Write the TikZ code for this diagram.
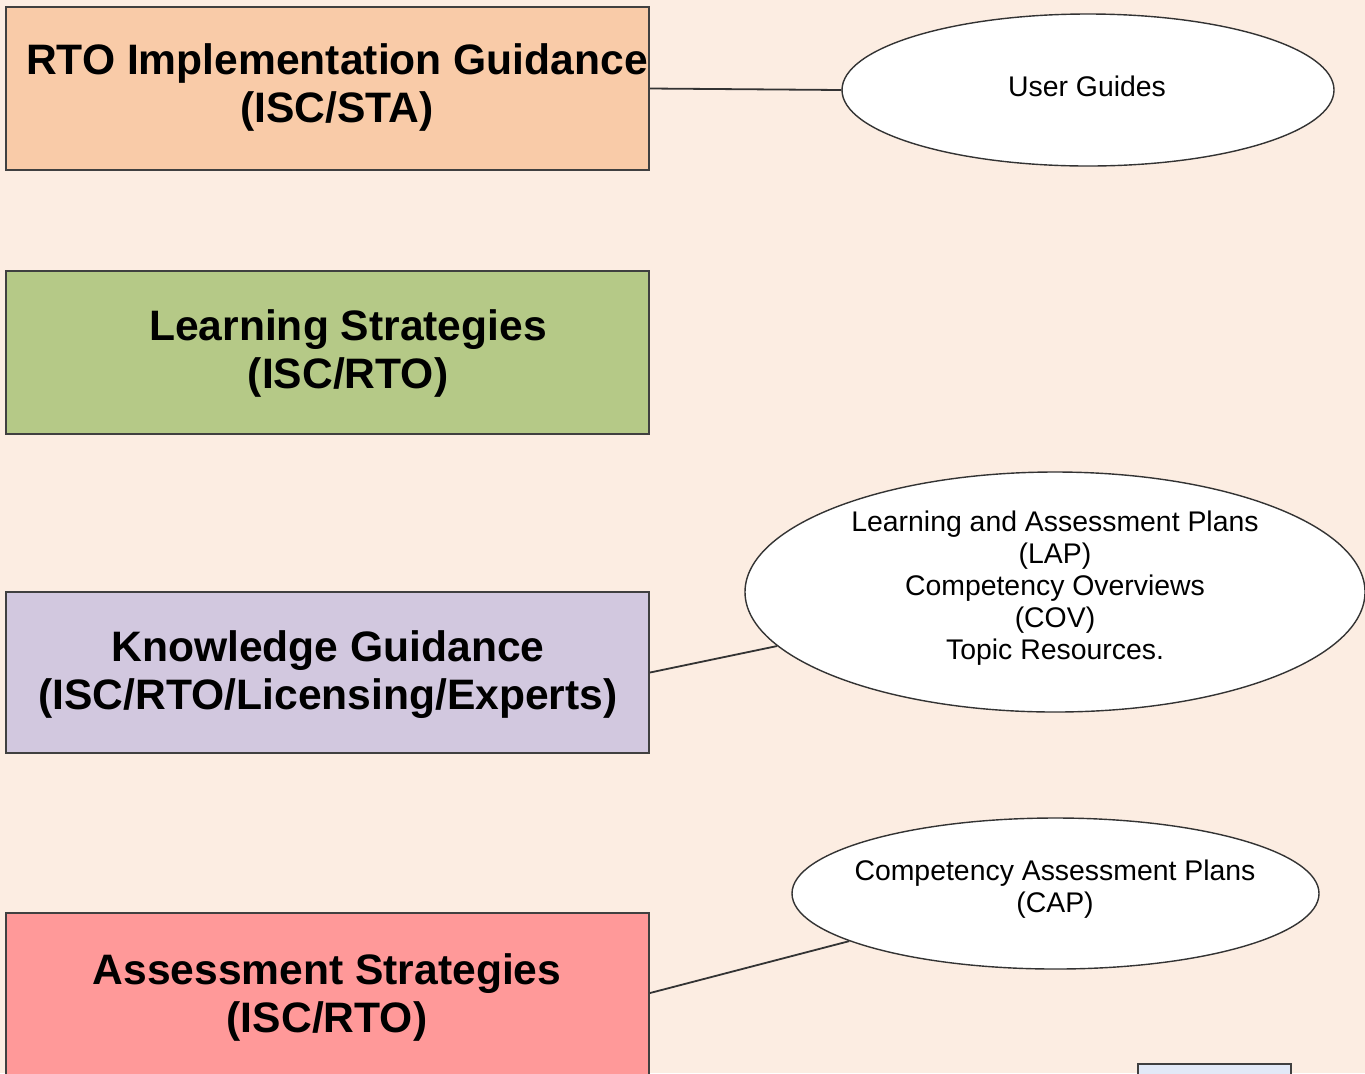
\documentclass[tikz,border=0pt]{standalone}
\usepackage{fontspec}
\setmainfont{Liberation Sans}
\usetikzlibrary{shapes.geometric}
\definecolor{bg}{RGB}{252,237,226}
\definecolor{orangefill}{RGB}{249,203,168}
\definecolor{greenfill}{RGB}{181,201,135}
\definecolor{lavfill}{RGB}{210,200,223}
\definecolor{redfill}{RGB}{255,153,153}
\definecolor{bluefill}{RGB}{226,233,247}
\tikzset{
  box/.style={draw=black!75, line width=1pt, minimum width=321.5pt, inner sep=0pt},
  boxtext/.style={font=\bfseries\fontsize{21.3}{24}\selectfont, align=center, inner sep=0pt},
  oval/.style={ellipse, draw=black!80, line width=0.7pt, fill=white, inner sep=0pt},
  ovaltext/.style={font=\fontsize{14.2}{16}\selectfont, align=center, inner sep=0pt},
  link/.style={draw=black!80, line width=0.9pt}
}
\begin{document}
\begin{tikzpicture}[x=0.5pt,y=-0.5pt]
\fill[bg] (0,0) rectangle (1365,1073);
\useasboundingbox (0,0) rectangle (1365,1073);
\clip (0,0) rectangle (1365,1073);
% boxes
\node[box, fill=orangefill, minimum height=81.5pt] (b1) at (327.5,88.5) {};
\node[box, fill=greenfill, minimum height=81.5pt] (b2) at (327.5,352.5) {};
\node[box, fill=lavfill, minimum height=80.5pt] (b3) at (327.5,672.5) {};
\node[box, fill=redfill, minimum height=90pt] (b4) at (327.5,1003) {};
\node[boxtext] (t1) at (337,87) {RTO Implementation Guidance\\(ISC/STA)};
\node[boxtext] (t2) at (348,353) {Learning Strategies\\(ISC/RTO)};
\node[boxtext] (t3) at (328,675) {Knowledge Guidance\\(ISC/RTO/Licensing/Experts)};
\node[boxtext] (t4) at (327,997) {Assessment Strategies\\(ISC/RTO)};
% ellipses
\node[oval, minimum width=246pt, minimum height=76pt] (e1) at (1088,90) {};
\node[oval, minimum width=310pt, minimum height=120pt] (e2) at (1055,592) {};
\node[oval, minimum width=263.5pt, minimum height=75.5pt] (e3) at (1055.5,893.5) {};
\node[ovaltext] (u1) at (1087,86) {User Guides};
\node[ovaltext] (u2) at (1055,588) {Learning and Assessment Plans\\(LAP)\\Competency Overviews\\(COV)\\Topic Resources.};
\node[ovaltext] (u3) at (1055,889) {Competency Assessment Plans\\(CAP)};
% partial box
\node[draw=black!75, line width=0.8pt, fill=bluefill, minimum width=76.5pt, minimum height=30pt, inner sep=0pt] (pb) at (1214.5,1094) {};
% connectors
\draw[link] (b1.east) -- (e1.west);
\draw[link] (b3.east) -- (e2.191);
\draw[link] ([yshift=5pt]b4.east) -- (e3.193.5);
\end{tikzpicture}
\end{document}
